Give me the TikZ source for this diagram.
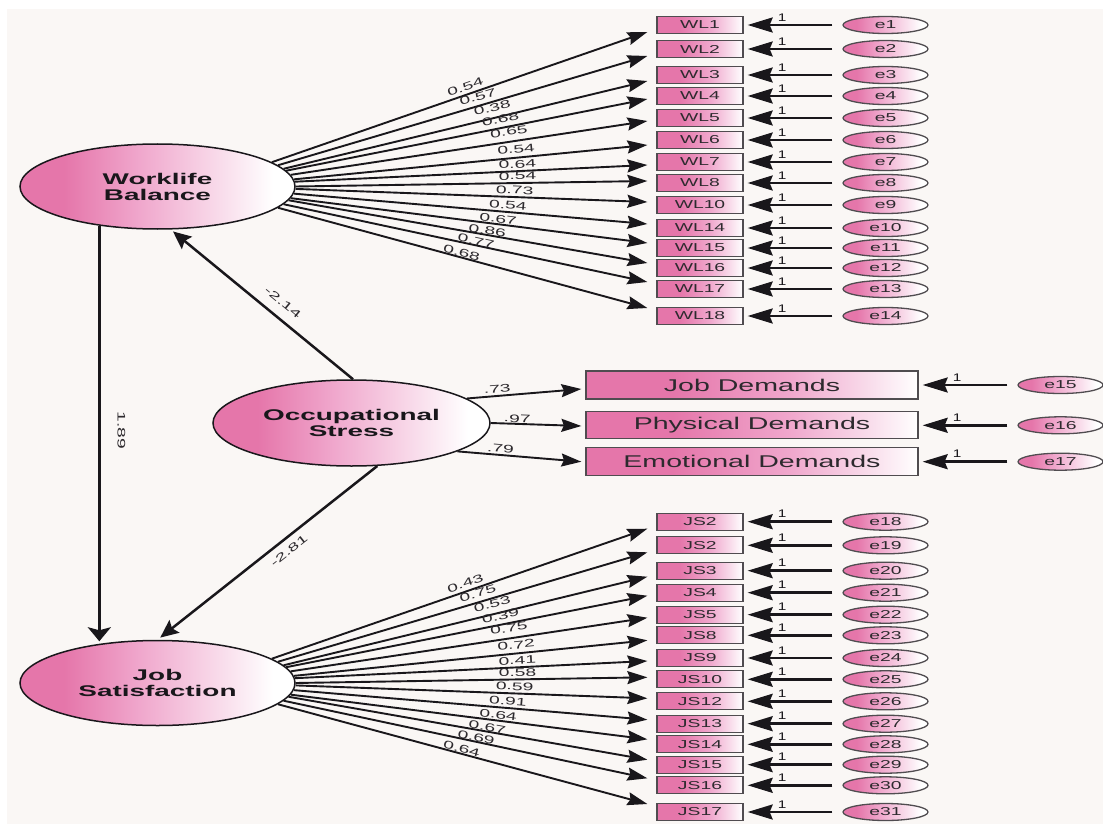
\documentclass[tikz,border=0pt]{standalone}
\usepackage{fontspec}
\setmainfont{Liberation Sans}
\newfontfamily\boxfont{Liberation Sans}[FakeStretch=1.68]
\newfontfamily\latfont{Liberation Sans}[FakeStretch=1.8]
\newfontfamily\numfont{Liberation Sans}[FakeStretch=1.75]
\newfontfamily\onefont{Liberation Sans}[FakeStretch=1.4]
\usetikzlibrary{arrows.meta,shapes.geometric,calc}

\definecolor{paper}{RGB}{250,247,245}
\definecolor{pinkdeep}{RGB}{229,118,170}
\definecolor{pinkmid}{RGB}{240,168,205}
\definecolor{pinksoft}{RGB}{249,222,236}
\definecolor{ink}{RGB}{25,23,27}
\definecolor{txt}{RGB}{45,42,46}
\definecolor{edge}{RGB}{80,76,80}

% pink-to-white fills for indicators and ovals
\pgfdeclarehorizontalshading{boxshade}{100bp}{color(0bp)=(pinkdeep); color(25bp)=(pinkdeep); color(38bp)=(pinkdeep); color(56bp)=(pinkmid); color(68bp)=(pinksoft); color(75bp)=(white); color(100bp)=(white)}
\pgfdeclarehorizontalshading{ovalshade}{100bp}{color(0bp)=(pinkdeep); color(25bp)=(pinkdeep); color(33bp)=(pinkdeep); color(47bp)=(pinkmid); color(62bp)=(pinksoft); color(71bp)=(white); color(100bp)=(white)}

\tikzset{
  obs/.style={rectangle, draw=edge, line width=1.3pt, shade, shading=boxshade,
    minimum width=86pt, minimum height=17pt, inner sep=0pt, text=txt,
    font=\boxfont\fontsize{11.5}{12}\selectfont},
  wide/.style={obs, minimum width=332pt, minimum height=28pt,
    font=\boxfont\fontsize{17}{18}\selectfont},
  err/.style={ellipse, draw=edge, line width=1.3pt, shade, shading=ovalshade,
    minimum width=85pt, minimum height=17pt, inner sep=0pt, text=txt,
    font=\boxfont\fontsize{11.5}{12}\selectfont},
  latent/.style={ellipse, draw=ink, line width=1.5pt, shade, shading=ovalshade,
    minimum width=275pt, minimum height=85pt, inner sep=0pt, align=center, text=ink,
    font=\latfont\bfseries\fontsize{15.5}{16}\selectfont},
  fan/.style={draw=ink, line width=1.9pt, -{Stealth[length=20pt,width=13pt,inset=2.5pt]}},
  erra/.style={draw=ink, line width=2.5pt, -{Stealth[length=25pt,width=15pt,inset=3pt]}},
  dpath/.style={draw=ink, line width=2.5pt, -{Stealth[length=18pt,width=16pt,inset=3pt]}},
  vpath/.style={draw=ink, line width=3.6pt, -{Stealth[length=14pt,width=23pt,inset=3pt]}},
  numtxt/.style={font=\numfont\fontsize{11}{12}\selectfont, text=txt, inner sep=0pt},
  num/.style={numtxt, sloped},
  one/.style={font=\onefont\fontsize{11}{12}\selectfont, text=ink, inner sep=0pt, above=2.5pt},
}

\begin{document}
\begin{tikzpicture}[x=1pt,y=-1pt]
\useasboundingbox (0,0) rectangle (1103,824);
\fill[white] (0,0) rectangle (1103,824);
\fill[paper] (7,9) rectangle (1103,824);

% latent variables
\node[latent] (wb) at (157.5,186.5) {Worklife\\Balance};
\node[latent] (jsat) at (157.5,683) {Job\\Satisfaction};
\node[latent, minimum width=277pt, minimum height=86pt] (os) at (351.5,423) {Occupational\\Stress};

% Worklife Balance indicators
\foreach \k/\nm/\by/\dy/\ang/\p/\sh/\v in {
  1/WL1/25/7/12/0.522/3.0/0.54,
  2/WL2/49/7/10/0.548/4.2/0.57,
  3/WL3/75/6/8/0.580/5.4/0.38,
  4/WL4/96/3/7/0.598/4.0/0.68,
  5/WL5/118/3/5/0.616/5.3/0.65,
  6/WL6/140/5/3/0.631/3.6/0.54,
  7/WL7/162/3/2/0.632/2.0/0.64,
  8/WL8/183/-2/0/0.631/2.2/0.54,
  9/WL10/205/-3/-1/0.622/2.1/0.73,
  10/WL14/228/-4/-3/0.604/2.2/0.54,
  11/WL15/248/-5/-5/0.580/0.6/0.67,
  12/WL16/268/-5/-6/0.552/-0.6/0.86,
  13/WL17/289/-7/-8/0.527/-0.7/0.77,
  14/WL18/316/-8/-10/0.494/0.0/0.68} {
  \node[obs] (wl\k) at (700,\by) {\nm};
  \node[err] (ew\k) at (885.5,\by) {e\k};
  \draw[erra] ([xshift=-10pt]ew\k.west) -- node[one, pos=0.593] {1} ([xshift=4pt]wl\k.east);
  \draw[fan] (wb.\ang) -- node[num, pos=\p, above=\sh pt] {\v} ($(wl\k.west)+(-9,\dy)$);
}

% Job Satisfaction indicators
\foreach \k/\nm/\by/\dy/\ang/\p/\sh/\v in {
  1/JS2/521.7/7/12/0.522/3.0/0.43,
  2/JS2/545.3/7/10/0.548/4.2/0.75,
  3/JS3/570.7/6/8/0.580/5.4/0.53,
  4/JS4/592.7/3/7/0.598/4.0/0.39,
  5/JS5/614.7/3/5/0.616/5.3/0.75,
  6/JS8/635.3/5/3/0.631/3.6/0.72,
  7/JS9/658/3/2/0.632/2.0/0.41,
  8/JS10/679.3/-2/0/0.631/2.2/0.58,
  9/JS12/701.3/-3/-1/0.622/2.1/0.59,
  10/JS13/723.7/-4/-3/0.604/2.2/0.91,
  11/JS14/744.3/-5/-5/0.580/0.6/0.64,
  12/JS15/764.7/-5/-6/0.552/-0.6/0.67,
  13/JS16/785.3/-7/-8/0.527/-0.7/0.69,
  14/JS17/812/-8/-10/0.494/0.0/0.64} {
  \pgfmathtruncatemacro\en{\k+17}
  \node[obs] (js\k) at (700,\by) {\nm};
  \node[err] (ej\k) at (885.5,\by) {e\en};
  \draw[erra] ([xshift=-10pt]ej\k.west) -- node[one, pos=0.593] {1} ([xshift=4pt]js\k.east);
  \draw[fan] (jsat.\ang) -- node[num, pos=\p, above=\sh pt] {\v} ($(js\k.west)+(-9,\dy)$);
}

% Occupational Stress indicators
\node[wide] (jd) at (752,385) {Job Demands};
\node[wide, minimum height=27pt] (pd) at (752,425.3) {Physical Demands};
\node[wide] (ed) at (752,461.7) {Emotional Demands};
\node[err] (e15) at (1060.5,385) {e15};
\node[err] (e16) at (1060.5,425.3) {e16};
\node[err] (e17) at (1060.5,461.7) {e17};
\draw[erra] ([xshift=-10pt]e15.west) -- node[one, pos=0.593] {1} ([xshift=4pt]jd.east);
\draw[erra] ([xshift=-10pt]e16.west) -- node[one, pos=0.593] {1} ([xshift=4pt]pd.east);
\draw[erra] ([xshift=-10pt]e17.west) -- node[one, pos=0.593] {1} ([xshift=4pt]ed.east);
\draw[fan] (os.12) -- node[num, pos=0.27, above=2pt] {.73} ($(jd.west)+(-4,4)$);
\draw[fan] (os.0) -- node[num, pos=0.29, above=0.5pt] {.97} ($(pd.west)+(-4,0.7)$);
\draw[fan] (os.-15) -- node[num, pos=0.344, above=1.7pt] {.79} ($(ed.west)+(-4,0)$);

% structural paths
\draw[dpath, shorten >=3pt] (os.88) -- node[num, pos=0.437, above=10pt] {-2.14} (wb.-73);
\draw[dpath, shorten >=3.5pt] (os.-59) -- node[num, pos=0.435, below=6.4pt] {-2.81} (jsat.north);
\draw[vpath, shorten >=2.5pt] (wb.214) -- (jsat.146);
\node[numtxt, rotate=-90] (b189) at ($(wb.214)!0.489!(jsat.146)+(22,0)$) {1.89};
\end{tikzpicture}
\end{document}
